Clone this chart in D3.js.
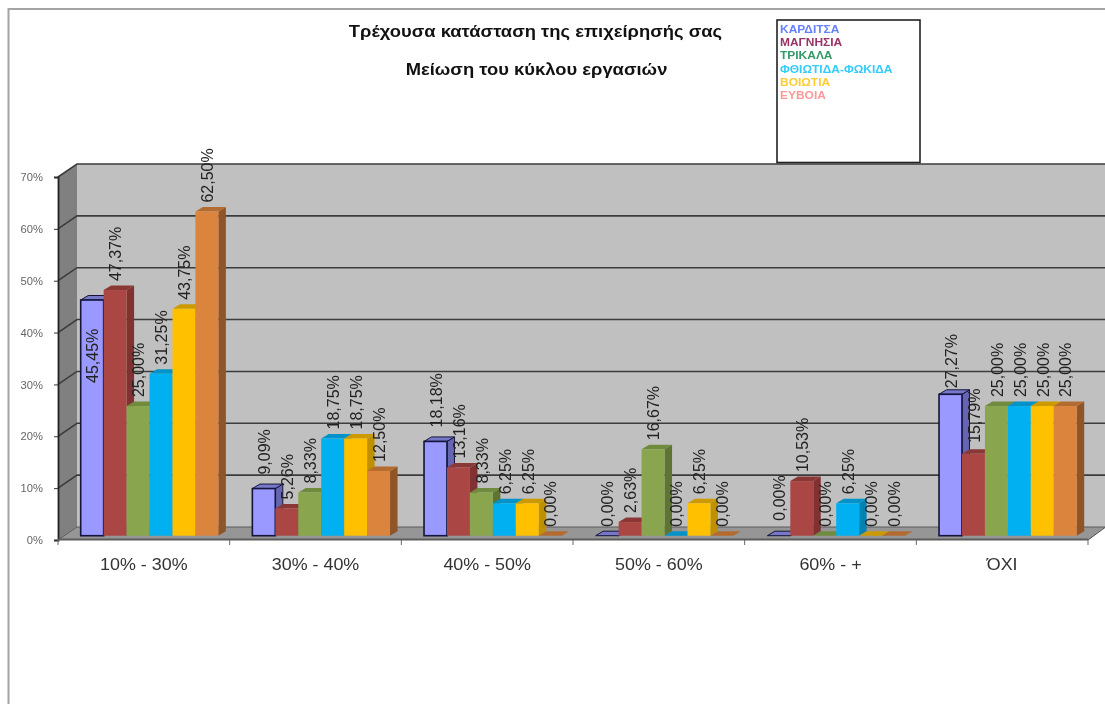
<!DOCTYPE html>
<html><head><meta charset="utf-8">
<script src="https://cdnjs.cloudflare.com/ajax/libs/d3/7.8.5/d3.min.js"></script>
<style>
html,body{margin:0;padding:0;background:#fff;overflow:hidden}
svg{display:block;filter:blur(0.45px)}
text{font-family:"Liberation Sans",Arial,sans-serif}
</style></head><body><svg id="c" width="1105" height="704"></svg>
<script>
const titleLines = ["Τρέχουσα κατάσταση της επιχείρησής σας", "Μείωση του κύκλου εργασιών"];
const categories = ["10% - 30%", "30% - 40%", "40% - 50%", "50% - 60%", "60% - +", "ΌΧΙ"];
const seriesNames = ["ΚΑΡΔΙΤΣΑ", "ΜΑΓΝΗΣΙΑ", "ΤΡΙΚΑΛΑ", "ΦΘΙΩΤΙΔΑ-ΦΩΚΙΔΑ", "ΒΟΙΩΤΙΑ", "ΕΥΒΟΙΑ"];
const karditsa = [45.45, 9.09, 18.18, 0, 0, 27.27];
const magnisia = [47.37, 5.26, 13.16, 2.63, 10.53, 15.79];
const trikala  = [25, 8.33, 8.33, 16.67, 0, 25];
const fthiotida = [31.25, 18.75, 6.25, 0, 6.25, 25];
const viotia   = [43.75, 18.75, 6.25, 6.25, 0, 25];
const evia     = [62.5, 12.5, 0, 0, 0, 25];
const seriesValues = [karditsa, magnisia, trikala, fthiotida, viotia, evia];
const yTicks = [0, 10, 20, 30, 40, 50, 60, 70];

const frontFill = ["#9999ff", "#aa4643", "#89a54e", "#00b0f0", "#ffc000", "#db843d"];
const sideFill  = ["#6666b0", "#7f3231", "#5f7335", "#0083b3", "#bf9000", "#8f5526"];
const topFill   = ["#7878c8", "#8a3836", "#708a3e", "#0092c8", "#cc9a00", "#b36b30"];
const legendFill = ["#6680ff", "#993366", "#339966", "#33ccff", "#ffcc33", "#ff9999"];

// per-label vertical nudges (series, category) → px, for labels moved by hand in the original
const labelNudge = {"0,0": 92, "0,1": -5, "0,2": -5, "0,4": -6, "0,5": 3, "1,5": -2};

const svg = d3.select("#c");
const fmt = v => v.toFixed(2).replace(".", ",") + "%";

const frontX = 58, frontXEnd = 1088, frontBase = 540, wallDX = 19, wallDY = 13, rightEdge = 1105;
const barShift = 5.7, barBaseUp = 4.3, barDX = 7.5, barDY = 4.5;

const yFront = d3.scaleLinear().domain([0, 70]).range([frontBase, 177]);
const yBar = v => yFront(v) - barBaseUp;

const x0 = d3.scaleBand().domain(categories).range([frontX, frontXEnd]);
const x0Bars = d3.scaleBand().domain(categories).range([frontX + barShift, frontXEnd + barShift])
  .paddingInner(0.198).paddingOuter(0.099);
const x1 = d3.scaleBand().domain(d3.range(seriesNames.length)).range([0, x0Bars.bandwidth()]);

const poly = pts => pts.map(p => p.join(",")).join(" ");

// frame
svg.append("path").attr("d", "M8.5,704V9H1105").attr("fill", "none").attr("stroke", "#a4a4a4").attr("stroke-width", 2);

// walls
const wallTop = yFront(70) - wallDY, wallBase = frontBase - wallDY;
svg.append("rect").attr("x", frontX + wallDX).attr("y", wallTop).attr("width", rightEdge - frontX - wallDX)
  .attr("height", wallBase - wallTop).attr("fill", "#c0c0c0");
svg.append("polygon").attr("fill", "#808080")
  .attr("points", poly([[frontX, yFront(70)], [frontX + wallDX, wallTop], [frontX + wallDX, wallBase], [frontX, frontBase]]));
svg.append("polygon").attr("fill", "#969696")
  .attr("points", poly([[frontX, frontBase], [frontX + wallDX, wallBase], [rightEdge, wallBase], [frontXEnd, frontBase]]));

// gridlines
svg.append("g").selectAll("path").data(yTicks).join("path")
  .attr("fill", "none").attr("stroke", d => d === 0 ? "#5a5a5a" : "#3c3c3c").attr("stroke-width", d => d === 0 ? 1 : 1.6)
  .attr("d", d => `M${frontX},${yFront(d)}L${frontX + wallDX},${yFront(d) - wallDY}H${rightEdge}`);

// y axis
const yAxis = svg.append("g").attr("transform", `translate(${frontX},0)`)
  .call(d3.axisLeft(yFront).tickValues(yTicks).tickFormat(d => d + "%").tickSize(4).tickPadding(11));
yAxis.select(".domain").attr("stroke", "#222").attr("stroke-width", 1.8);
yAxis.selectAll("line").attr("stroke", "#333");
yAxis.selectAll("text").attr("font-size", 11.2).attr("fill", "#666");

// x axis
const xAxis = svg.append("g").attr("transform", `translate(0,${frontBase})`)
  .call(d3.axisBottom(x0).tickSize(0).tickPadding(19));
xAxis.select(".domain").remove();
xAxis.selectAll("text").attr("font-size", 16).attr("fill", "#333").attr("transform", "scale(1.12,1)");
svg.append("line").attr("x1", frontX).attr("x2", frontXEnd).attr("y1", frontBase - 0.5).attr("y2", frontBase - 0.5)
  .attr("stroke", "#5c5c5c").attr("stroke-width", 2);
svg.append("line").attr("x1", frontXEnd).attr("x2", rightEdge).attr("y1", frontBase).attr("y2", wallBase + 0.5)
  .attr("stroke", "#444").attr("stroke-width", 1);
svg.append("g").selectAll("line").data(d3.range(categories.length + 1)).join("line")
  .attr("x1", i => frontX + i * x0.step()).attr("x2", i => frontX + i * x0.step())
  .attr("y1", frontBase).attr("y2", frontBase + 5).attr("stroke", "#666");

// bars: drawn left to right so each front face covers its left neighbour's side
categories.forEach((cat, c) => {
  seriesValues.forEach((vals, s) => {
    const v = vals[c];
    const x = x0Bars(cat) + x1(s), w = x1.bandwidth(), yT = yBar(v), yB = yBar(0);
    const g = svg.append("g");
    const stroke = s === 0 ? "#14143c" : "none";
    g.append("polygon").attr("fill", sideFill[s]).attr("stroke", stroke).attr("stroke-width", 1)
      .attr("points", poly([[x + w, yT], [x + w + barDX, yT - barDY], [x + w + barDX, yB - barDY], [x + w, yB]]));
    g.append("polygon").attr("fill", topFill[s]).attr("stroke", stroke).attr("stroke-width", 1)
      .attr("points", poly([[x, yT], [x + barDX, yT - barDY], [x + w + barDX, yT - barDY], [x + w, yT]]));
    if (v > 0) g.append("rect").attr("x", x).attr("y", yT).attr("width", w).attr("height", yB - yT)
      .attr("fill", frontFill[s]).attr("stroke", stroke).attr("stroke-width", 1.6);
  });
});

// data labels
categories.forEach((cat, c) => {
  seriesValues.forEach((vals, s) => {
    const v = vals[c];
    const x = x0Bars(cat) + x1(s) + x1.bandwidth() / 2 + 0.5;
    const y = yBar(v) - 9 + (labelNudge[s + "," + c] || 0);
    svg.append("text").text(fmt(v)).attr("font-size", 16).attr("fill", "#222")
      .attr("dy", "0.36em")
      .attr("transform", `translate(${x},${y}) rotate(-90)`);
  });
});

// title
titleLines.forEach((t, i) => {
  svg.append("text").text(t).attr("font-weight", "bold").attr("fill", "#111")
    .attr("font-size", 16.5).attr("text-anchor", "middle")
    .attr("transform", `translate(${i === 0 ? 535.5 : 536.5},${i === 0 ? 36.5 : 74.5}) scale(1.115,1)`);
});

// legend
svg.append("rect").attr("x", 777).attr("y", 20).attr("width", 143).attr("height", 142.5)
  .attr("fill", "#fff").attr("stroke", "#222").attr("stroke-width", 1.6);
svg.append("g").selectAll("text").data(seriesNames).join("text").text(d => d)
  .attr("font-size", 10.5).attr("font-weight", "bold").attr("fill", (d, i) => legendFill[i])
  .attr("transform", (d, i) => `translate(780,${32.5 + i * 13.35}) scale(1.14,1)`);
</script></body></html>
